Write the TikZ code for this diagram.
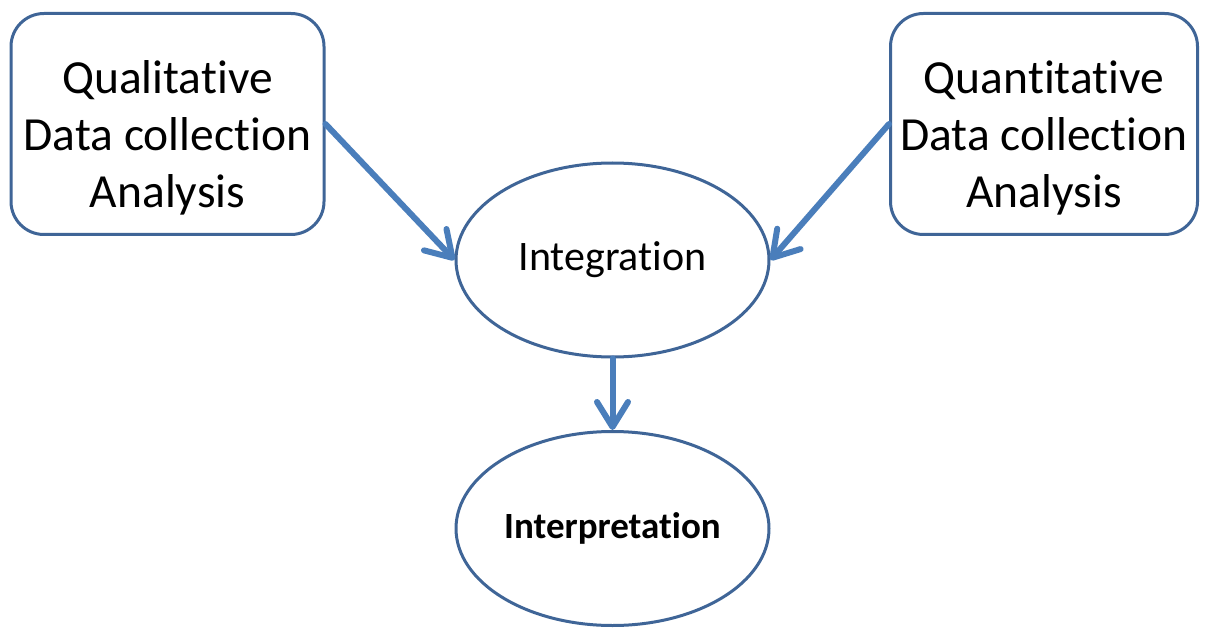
\documentclass[tikz,border=0pt]{standalone}
\usepackage{fontspec}
\setmainfont{Carlito}[Ligatures=NoCommon]
\usetikzlibrary{shapes.geometric,arrows.meta}
\definecolor{outline}{HTML}{3F6597}
\definecolor{flow}{HTML}{4A7EBB}
\tikzset{
  source/.style={draw=outline, line width=3pt, rounded corners=33pt, fill=white,
    inner sep=0pt, minimum height=221pt},
  sourcetext/.style={align=center, inner sep=0pt, font=\fontsize{47.5}{57}\selectfont},
  stage/.style={draw=outline, line width=3pt, ellipse, fill=white, inner sep=0pt,
    minimum width=313pt},
  flowarrow/.style={draw=flow, line width=6pt, line cap=round,
    -{Straight Barb[length=25pt, width=31pt, line width=6pt, round]}}
}
\begin{document}
\begin{tikzpicture}[x=1pt, y=-1pt]
  \useasboundingbox (0,0) rectangle (1205,631);
  % data sources
  \node[source, minimum width=313pt] (qual) at (167.5,124) {};
  \node[sourcetext] (qualtext) at ([yshift=-14pt]qual.center)
    {Qualitative\\Data collection\\Analysis};
  \node[source, minimum width=307pt] (quant) at (1044,124) {};
  \node[sourcetext] (quanttext) at ([yshift=-14pt]quant.center)
    {Quantitative\\Data collection\\Analysis};
  % stages
  \node[stage, minimum height=194pt, font=\fontsize{42}{50}\selectfont] (integ) at (612.5,260)
    {Integration};
  \node[stage, minimum height=194pt, font=\bfseries\fontsize{37}{44}\selectfont] (interp) at (612.5,528.5)
    {Interpretation};
  % flow
  \draw[flowarrow] (qual.east) -- (integ.west);
  \draw[flowarrow] (quant.west) -- (integ.east);
  \draw[flowarrow] (integ.south) -- (interp.north);
\end{tikzpicture}
\end{document}
